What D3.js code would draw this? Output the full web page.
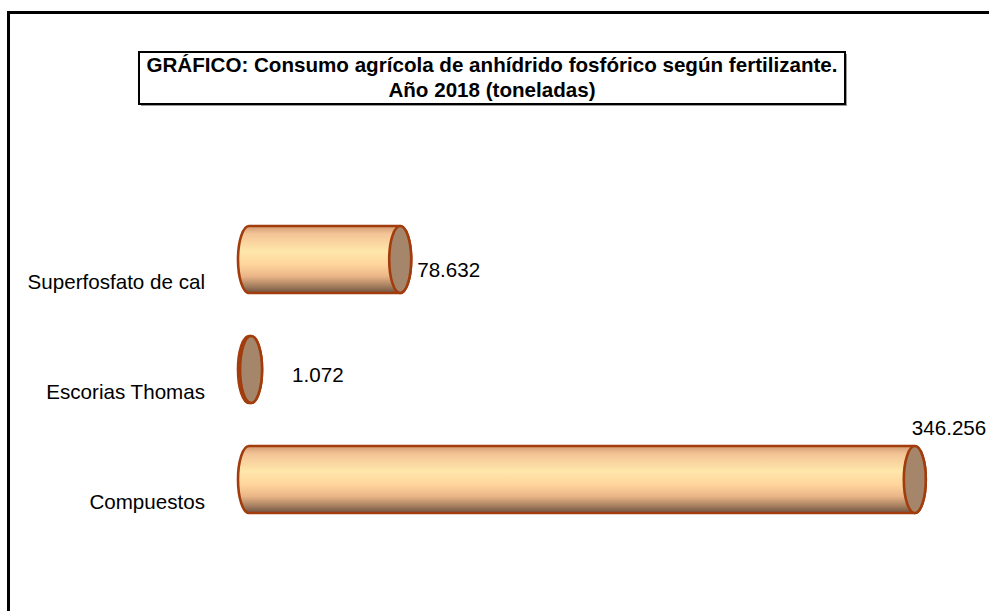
<!DOCTYPE html>
<html>
<head>
<meta charset="utf-8">
<script src="https://cdn.jsdelivr.net/npm/d3@7"></script>
<style>
  html, body { margin: 0; padding: 0; background: #fff; }
  svg { display: block; font-family: "Liberation Sans", Arial, sans-serif; }
</style>
</head>
<body>
<svg id="chart" width="989" height="611"></svg>
<script>
const title_lines = [
  "GRÁFICO: Consumo agrícola de anhídrido fosfórico según fertilizante.",
  "Año 2018 (toneladas)",
];
const categories = ["Superfosfato de cal", "Escorias Thomas", "Compuestos"];
const values = [78632, 1072, 346256]; // toneladas
const x_domain = [0, 350000];

// label nudges (Excel put them by hand, roughly)
const label_nudges = [[17, 17], [41, 12], [-3, -44.5]];

const stroke_color = "#a33c0c";
const cap_fill = "#a5866a";
const cyl_rx = 11;
const cyl_ry = 33.5;
const label_size = 20.6;

const es = d3.formatLocale({ decimal: ",", thousands: ".", grouping: [3], currency: ["", " €"] });
const fmt = es.format(",d");

const svg = d3.select("#chart");

// gradient for cylinder body
const defs = svg.append("defs");
const grad = defs.append("linearGradient")
  .attr("id", "body_grad")
  .attr("x1", 0).attr("y1", 0).attr("x2", 0).attr("y2", 1);
[
  [0, "#d09a72"],
  [0.12, "#f4c496"],
  [0.38, "#ffe7ab"],
  [0.58, "#ffd49c"],
  [0.75, "#eab587"],
  [0.9, "#a47d5e"],
  [1, "#6c5242"],
].forEach(([o, c]) => grad.append("stop").attr("offset", o).attr("stop-color", c));

// outer frame
svg.append("path")
  .attr("d", "M8.5,640 L8.5,12.5 L1000,12.5")
  .attr("fill", "none")
  .attr("stroke", "#000")
  .attr("stroke-width", 3);

// title box
const tb = { x: 139, y: 52, w: 706, h: 52 };
svg.append("rect")
  .attr("x", tb.x + 2).attr("y", tb.y + 2)
  .attr("width", tb.w).attr("height", tb.h)
  .attr("fill", "#9a9a9a");
svg.append("rect")
  .attr("x", tb.x).attr("y", tb.y)
  .attr("width", tb.w).attr("height", tb.h)
  .attr("fill", "#fff")
  .attr("stroke", "#000")
  .attr("stroke-width", 2);
svg.append("g")
  .selectAll("text")
  .data(title_lines)
  .join("text")
  .attr("x", tb.x + tb.w / 2)
  .attr("y", (d, i) => 71.5 + i * 25.5)
  .attr("text-anchor", "middle")
  .attr("font-weight", "bold")
  .attr("font-size", 20.6)
  .text((d) => d);

const x = d3.scaleLinear().domain(x_domain).range([249, 922]);
const y = d3.scalePoint().domain(categories).range([259.5, 479.5]);

const rows = categories.map((c, i) => ({ cat: c, value: values[i], nudge: label_nudges[i] }));

function cylinder_path(x0, x1, cy) {
  const t = cy - cyl_ry, b = cy + cyl_ry;
  return `M${x0},${t} L${x1},${t} A${cyl_rx},${cyl_ry} 0 0 1 ${x1},${b} L${x0},${b} A${cyl_rx},${cyl_ry} 0 0 1 ${x0},${t} Z`;
}

const bar = svg.append("g")
  .selectAll("g")
  .data(rows)
  .join("g");

bar.append("path")
  .attr("d", (d) => cylinder_path(x(0), x(d.value), y(d.cat)))
  .attr("fill", "url(#body_grad)")
  .attr("stroke", stroke_color)
  .attr("stroke-width", 2.6)
  .attr("stroke-linejoin", "round");

bar.append("ellipse")
  .attr("cx", (d) => x(d.value))
  .attr("cy", (d) => y(d.cat))
  .attr("rx", cyl_rx)
  .attr("ry", cyl_ry)
  .attr("fill", cap_fill)
  .attr("stroke", stroke_color)
  .attr("stroke-width", 2.6);

// value labels
bar.append("text")
  .attr("x", (d) => x(d.value) + d.nudge[0])
  .attr("y", (d) => y(d.cat) + d.nudge[1])
  .attr("font-size", label_size)
  .attr("fill", "#000")
  .text((d) => fmt(d.value));

// category labels
svg.append("g")
  .selectAll("text")
  .data(categories)
  .join("text")
  .attr("x", 205)
  .attr("y", (d) => y(d) + 29)
  .attr("text-anchor", "end")
  .attr("font-size", label_size)
  .attr("fill", "#000")
  .text((d) => d);
</script>
</body>
</html>
